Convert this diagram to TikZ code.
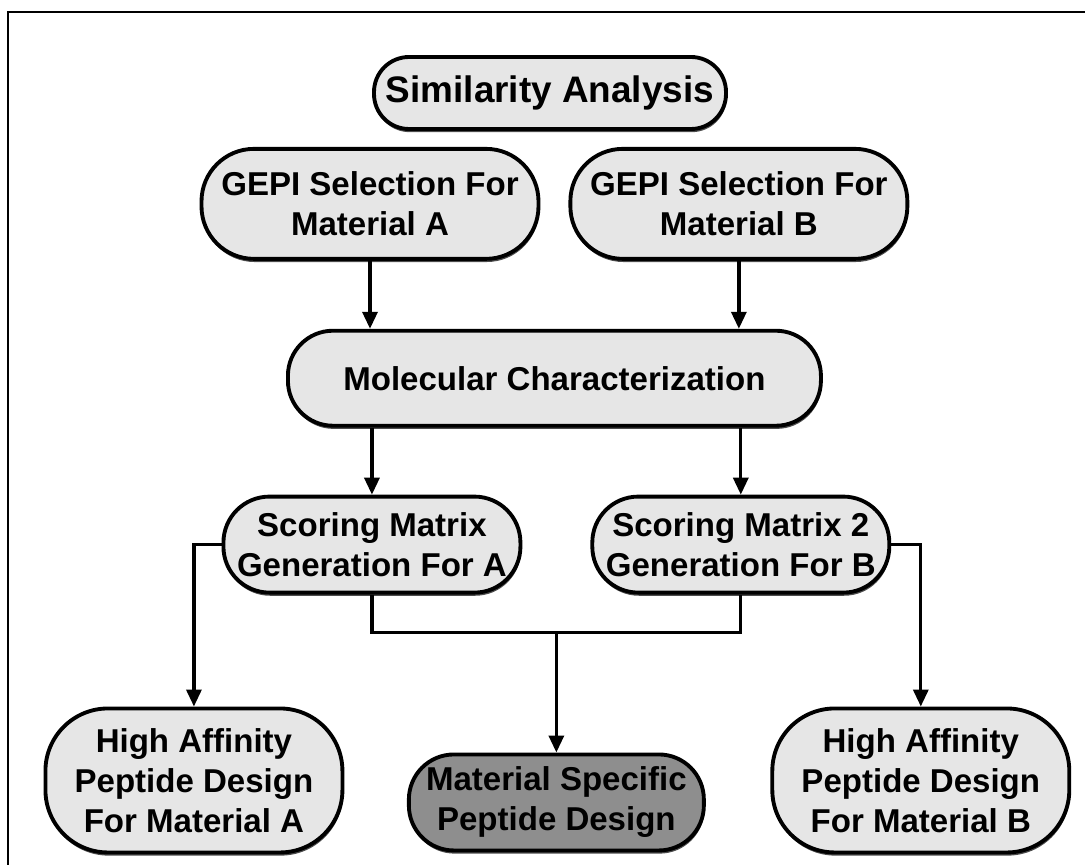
\documentclass[tikz,border=0pt]{standalone}
\usepackage{fontspec}
\setmainfont{Liberation Sans}
\usepackage{tikz}
\usetikzlibrary{arrows.meta,positioning,shadows,calc}
\definecolor{boxfill}{HTML}{E6E6E6}
\definecolor{darkfill}{HTML}{8E8E8E}

\begin{document}
\begin{tikzpicture}[
  box/.style={draw=black, line width=2.2pt, fill=boxfill, rounded corners=0.9cm, inner sep=0pt, align=center, font=\bfseries\fontsize{18.8}{22.8}\selectfont, drop shadow={shadow xshift=0.4pt, shadow yshift=-1.8pt, fill=black, opacity=0.7}},
  titlebox/.style={box, rounded corners=0.7cm, minimum width=7.04cm, minimum height=1.44cm, font=\bfseries\fontsize{21}{25}\selectfont},
  gepibox/.style={box, minimum width=6.74cm, minimum height=2.2cm, rounded corners=1.05cm},
  scorebox/.style={box, minimum width=5.94cm, minimum height=1.92cm, rounded corners=0.92cm},
  designbox/.style={box, minimum width=5.94cm, minimum height=2.88cm, rounded corners=1.25cm},
  arr/.style={-{Triangle[length=3.4mm, width=3mm]}, line width=1.9pt},
  link/.style={line width=1.9pt}
]
  \useasboundingbox (0,0) rectangle (21.7,-17.3);
  \draw[line width=1.3pt] (0.16,-17.3) -- (0.16,-0.24) -- (21.7,-0.24);

  \node[titlebox] (sim) at (11.0,-1.86) {Similarity Analysis};
  \node[gepibox, below=0.32cm of sim, xshift=-3.6cm] (gepiA) {GEPI Selection For\\Material A};
  \node[gepibox, right=0.56cm of gepiA] (gepiB) {GEPI Selection For\\Material B};
  \coordinate (gepimid) at ($(gepiA.south)!0.5!(gepiB.south)$);
  \node[box, minimum width=10.66cm, minimum height=1.9cm, below=1.36cm of gepimid] (molec) {Molecular Characterization};
  \node[scorebox, below=1.34cm of molec, xshift=-3.65cm] (scoreA) {Scoring Matrix\\Generation For A};
  \node[scorebox, right=1.36cm of scoreA] (scoreB) {Scoring Matrix 2\\Generation For B};
  \coordinate (scoremid) at ($(scoreA.south)!0.5!(scoreB.south)$);
  \coordinate[below=0.76cm of scoremid] (join);
  \node[designbox, below=2.24cm of scoreA, xshift=-3.56cm] (highA) {High Affinity\\Peptide Design\\For Material A};
  \node[designbox, below=2.24cm of scoreB, xshift=3.6cm] (highB) {High Affinity\\Peptide Design\\For Material B};
  \node[box, fill=darkfill, minimum width=5.9cm, minimum height=1.92cm, below=2.4cm of join] (matspec) {Material Specific\\Peptide Design};

  \draw[arr] (gepiA) -- (gepiA |- molec.north);
  \draw[arr] (gepiB) -- (gepiB |- molec.north);
  \draw[arr] (scoreA |- molec.south) -- (scoreA);
  \draw[arr] (scoreB |- molec.south) -- (scoreB);
  \draw[arr] (scoreA.west) -| (highA);
  \draw[arr] (scoreB.east) -| (highB);
  \draw[link] (scoreA) |- (join) -| (scoreB);
  \draw[arr] (join) -- (matspec);
\end{tikzpicture}
\end{document}
